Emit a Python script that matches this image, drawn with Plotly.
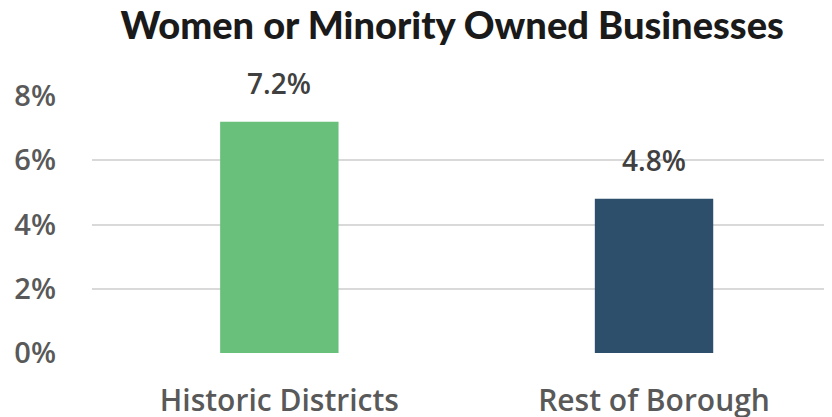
import plotly.graph_objects as go

categories = ["Historic Districts", "Rest of Borough"]
values = [7.2, 4.8]
bar_colors = ["#69c07a", "#2d4f6b"]
tick_vals = [0, 2, 4, 6, 8]
tick_text = ["0%", "2%", "4%", "6%", "8%"]
title_text = "Women or Minority Owned Businesses"

fig = go.Figure(go.Bar(
    x=categories, y=values,
    marker=dict(color=bar_colors, line=dict(width=0)),
    width=0.316,
    hoverinfo="x+y",
))

for c, v in zip(categories, values):
    fig.add_annotation(x=c, y=v, text=f"{v:.1f}%", showarrow=False,
                       yanchor="bottom", yshift=18,
                       font=dict(family="Open Sans", size=28, color="#404040", weight=600))

fig.update_layout(
    width=824, height=409,
    margin=dict(l=84, r=0, t=88, b=64, autoexpand=False),
    paper_bgcolor="white", plot_bgcolor="white",
    title=dict(text=title_text, x=0.539, xanchor="center", y=0.99, yanchor="top",
               font=dict(family="Lato", size=38, color="#1a1a1a", weight=900)),
    showlegend=False,
)
fig.update_xaxes(range=[-0.5, 1.475], showgrid=False, showline=False, ticks="",
                 automargin=False,
                 tickfont=dict(family="Open Sans", size=30, color="#595959", weight=600),
                 ticklabelstandoff=27)
fig.update_yaxes(range=[0, 8], tickvals=tick_vals, ticktext=tick_text,
                 showgrid=True, gridcolor="#d9d9d9", gridwidth=2,
                 zeroline=False, showline=False, ticks="", automargin=False,
                 tickfont=dict(family="Open Sans", size=29, color="#595959", weight=600),
                 ticklabelstandoff=35)

fig.write_html("out.html")
